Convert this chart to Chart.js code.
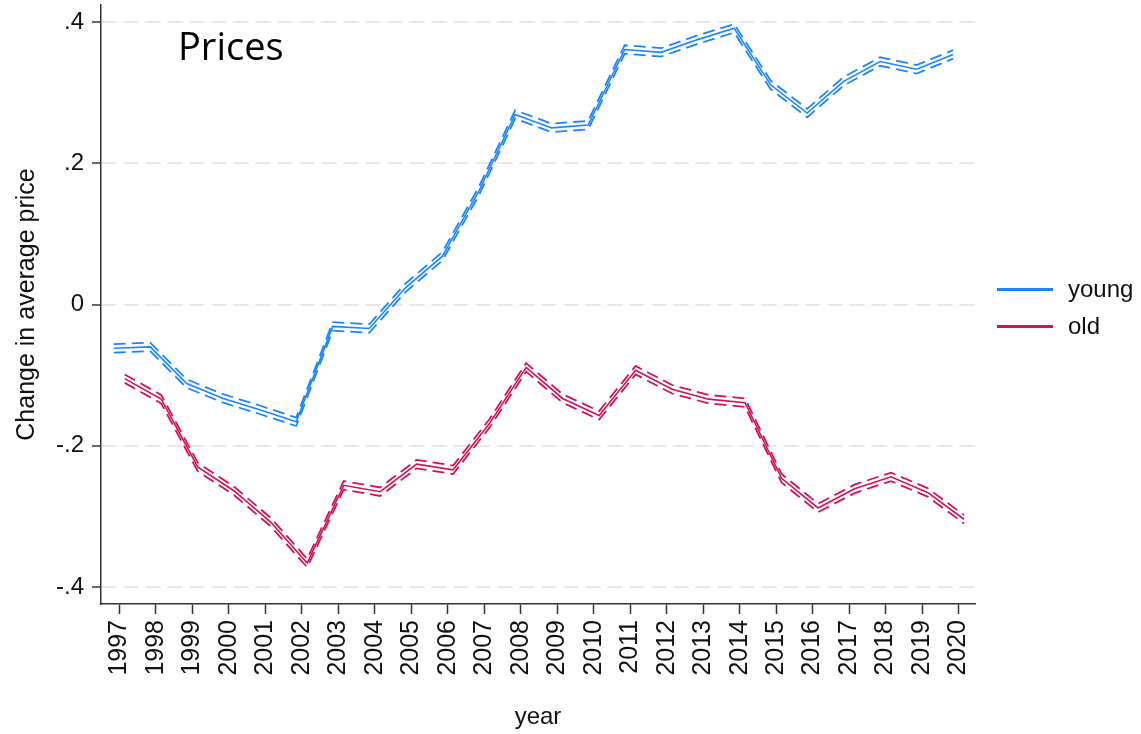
<!DOCTYPE html>
<html>
<head>
<meta charset="utf-8">
<title>Prices</title>
<script src="https://cdn.jsdelivr.net/npm/chart.js@4.4.1/dist/chart.umd.min.js"></script>
<style>
  html, body { margin: 0; padding: 0; background: #fff; }
  #wrap { width: 1141px; height: 734px; position: relative; }
</style>
</head>
<body>
<div id="wrap"><canvas id="chart"></canvas></div>
<script>
// --- data ---
const years = [1997, 1998, 1999, 2000, 2001, 2002, 2003, 2004, 2005, 2006, 2007, 2008,
               2009, 2010, 2011, 2012, 2013, 2014, 2015, 2016, 2017, 2018, 2019, 2020]

const young   = [-0.062, -0.060, -0.112, -0.133, -0.149, -0.166, -0.031, -0.034, 0.024, 0.068, 0.160, 0.269,
                  0.250, 0.254, 0.361, 0.357, 0.375, 0.391, 0.311, 0.271, 0.316, 0.344, 0.333, 0.354]
const youngHi = [-0.056, -0.054, -0.106, -0.127, -0.143, -0.160, -0.025, -0.028, 0.030, 0.074, 0.166, 0.275,
                  0.256, 0.260, 0.367, 0.363, 0.381, 0.397, 0.317, 0.277, 0.322, 0.350, 0.339, 0.360]
const youngLo = [-0.068, -0.066, -0.118, -0.139, -0.155, -0.172, -0.037, -0.040, 0.018, 0.062, 0.154, 0.263,
                  0.244, 0.248, 0.355, 0.351, 0.369, 0.385, 0.305, 0.265, 0.310, 0.338, 0.327, 0.348]

const old   = [-0.105, -0.134, -0.230, -0.264, -0.308, -0.366, -0.256, -0.265, -0.226, -0.234, -0.168, -0.089,
               -0.133, -0.157, -0.093, -0.120, -0.134, -0.139, -0.246, -0.288, -0.261, -0.244, -0.266, -0.304]
const oldHi = [-0.099, -0.128, -0.224, -0.258, -0.302, -0.360, -0.250, -0.259, -0.220, -0.228, -0.162, -0.083,
               -0.127, -0.151, -0.087, -0.114, -0.128, -0.133, -0.240, -0.282, -0.255, -0.238, -0.260, -0.298]
const oldLo = [-0.111, -0.140, -0.236, -0.270, -0.314, -0.372, -0.262, -0.271, -0.232, -0.240, -0.174, -0.095,
               -0.139, -0.163, -0.099, -0.126, -0.140, -0.145, -0.252, -0.294, -0.267, -0.250, -0.272, -0.310]

const yTicks = [-0.4, -0.2, 0, 0.2, 0.4]
const yTickLabels = ['-.4', '-.2', '0', '.2', '.4']

// --- styling ---
const BLUE = '#1a85ff'
const RED = '#d41159'
const INK = '#111111'
const AXIS = '#333333'
const DODGE = 0.15 // series are shifted a little either side of the year

Chart.defaults.font.family = '"Liberation Sans", Arial, sans-serif'
Chart.defaults.font.size = 24
Chart.defaults.color = INK

function series(label, vals, shift, color, dashed, inLegend) {
  return {
    label,
    data: years.map((yr, i) => ({ x: yr + shift, y: vals[i] })),
    borderColor: color,
    backgroundColor: color,
    borderWidth: dashed ? 1.8 : 1.6,
    borderDash: dashed ? [12, 6] : [],
    pointRadius: 0,
    tension: 0,
    fill: false,
    inLegend,
  }
}

const datasets = [
  series('young', young, -DODGE, BLUE, false, true),
  series('young hi', youngHi, -DODGE, BLUE, true, false),
  series('young lo', youngLo, -DODGE, BLUE, true, false),
  series('old', old, DODGE, RED, false, true),
  series('old hi', oldHi, DODGE, RED, true, false),
  series('old lo', oldLo, DODGE, RED, true, false),
]

// legend on the right + "Prices" note inside the plot
const extras = {
  id: 'extras',
  afterDraw(chart) {
    const { ctx, chartArea } = chart
    ctx.save()
    ctx.fillStyle = '#000'
    ctx.font = '38px "Open Sans", sans-serif'
    ctx.textBaseline = 'alphabetic'
    ctx.textAlign = 'left'
    ctx.fillText('Prices', chartArea.left + 77, chartArea.top + 55)

    const items = chart.data.datasets.filter(d => d.inLegend)
    const mid = (chartArea.top + chartArea.bottom) / 2
    ctx.font = '24px "Liberation Sans", Arial, sans-serif'
    ctx.textBaseline = 'middle'
    items.forEach((d, i) => {
      const y = mid - 15 + i * 37
      ctx.strokeStyle = d.borderColor
      ctx.lineWidth = 3
      ctx.beginPath()
      ctx.moveTo(chartArea.right + 22, y)
      ctx.lineTo(chartArea.right + 78, y)
      ctx.stroke()
      ctx.fillStyle = INK
      ctx.fillText(d.label, chartArea.right + 93, y + 1)
    })
    ctx.restore()
  },
}

function noPad(scale) {
  scale.paddingTop = 0
  scale.paddingBottom = 0
  scale.paddingLeft = 0
  scale.paddingRight = 0
}

new Chart(document.getElementById('chart'), {
  type: 'line',
  data: { datasets },
  options: {
    responsive: true,
    maintainAspectRatio: false,
    animation: false,
    layout: { padding: { left: 0, top: 5, right: 166, bottom: 0 } },
    plugins: { legend: { display: false }, tooltip: { enabled: false } },
    scales: {
      x: {
        type: 'linear',
        min: 1996.5,
        max: 2020.45,
        afterBuildTicks: s => { s.ticks = years.map(v => ({ value: v })) },
        afterFit: s => { s.height = 130; noPad(s) },
        ticks: {
          autoSkip: false,
          minRotation: 90,
          maxRotation: 90,
          padding: 6,
          color: INK,
          font: { size: 25 },
          callback: v => String(v),
        },
        grid: { drawOnChartArea: false, drawTicks: true, tickLength: 10, tickColor: AXIS, tickWidth: 1.5 },
        border: { display: true, color: AXIS, width: 1.5 },
        title: { display: true, text: 'year', color: INK, padding: { top: 0, bottom: 2 } },
      },
      y: {
        type: 'linear',
        min: -0.424,
        max: 0.424,
        afterBuildTicks: s => { s.ticks = yTicks.map(v => ({ value: v })) },
        afterFit: s => { s.width = 101; noPad(s) },
        ticks: {
          padding: 8,
          color: INK,
          callback: v => yTickLabels[yTicks.indexOf(v)],
        },
        grid: {
          drawOnChartArea: true,
          color: '#e8e8e8',
          lineWidth: 2,
          tickLength: 9,
          tickColor: AXIS,
          tickWidth: 1.5,
        },
        border: { display: true, color: AXIS, width: 1.5, dash: [15, 7] },
        title: {
          display: true,
          text: 'Change in average price',
          color: INK,
          font: { size: 25 },
          padding: { top: 12, bottom: 0 },
        },
      },
    },
  },
  plugins: [extras],
})
</script>
</body>
</html>
